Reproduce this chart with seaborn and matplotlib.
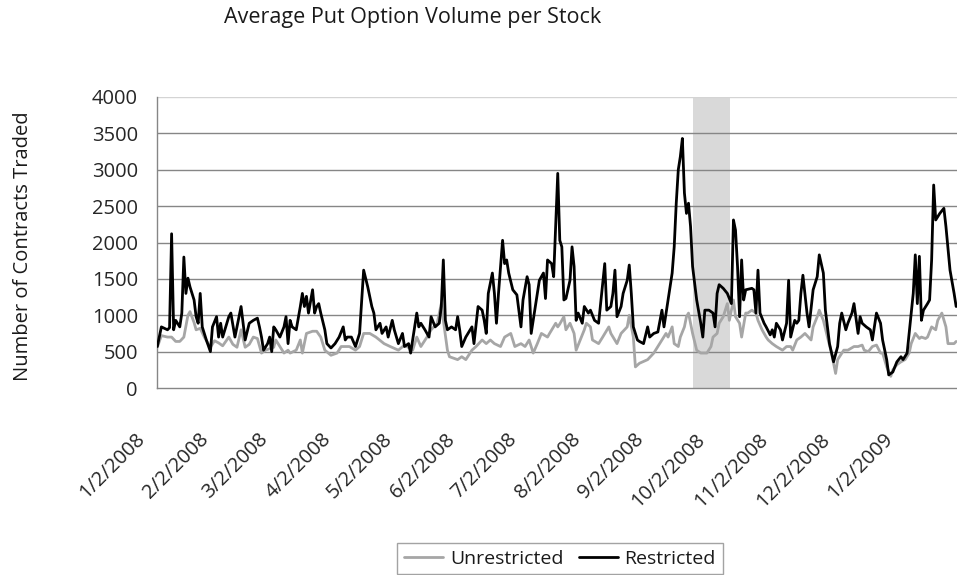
import matplotlib
matplotlib.use("Agg")
import matplotlib.pyplot as plt
import matplotlib.transforms as mtransforms
import seaborn as sns
import pandas as pd

# Restricted stocks (black line)
restricted_dates = [
    "2008-01-02", "2008-01-04", "2008-01-07", "2008-01-08", "2008-01-09", "2008-01-10", "2008-01-11",
    "2008-01-13", "2008-01-14", "2008-01-15", "2008-01-16", "2008-01-17", "2008-01-18", "2008-01-20",
    "2008-01-21", "2008-01-22", "2008-01-23", "2008-01-24", "2008-01-26", "2008-01-28", "2008-01-29",
    "2008-01-31",
    "2008-02-01", "2008-02-02", "2008-02-03", "2008-02-06", "2008-02-07", "2008-02-09", "2008-02-11",
    "2008-02-12", "2008-02-13", "2008-02-14", "2008-02-16", "2008-02-18", "2008-02-20", "2008-02-21",
    "2008-02-22", "2008-02-23", "2008-02-25", "2008-02-26", "2008-02-27", "2008-02-28", "2008-02-29",
    "2008-03-02", "2008-03-04", "2008-03-05", "2008-03-06", "2008-03-07", "2008-03-08", "2008-03-10",
    "2008-03-12", "2008-03-13", "2008-03-14", "2008-03-15", "2008-03-16", "2008-03-18", "2008-03-19",
    "2008-03-20", "2008-03-21", "2008-03-22", "2008-03-24", "2008-03-25", "2008-03-27", "2008-03-29",
    "2008-03-31",
    "2008-04-02", "2008-04-03", "2008-04-04", "2008-04-06", "2008-04-08", "2008-04-10", "2008-04-12",
    "2008-04-14", "2008-04-16", "2008-04-17", "2008-04-18", "2008-04-20", "2008-04-21", "2008-04-23",
    "2008-04-24", "2008-04-26", "2008-04-27", "2008-04-29",
    "2008-05-01", "2008-05-02", "2008-05-04", "2008-05-05", "2008-05-08", "2008-05-09", "2008-05-10",
    "2008-05-12", "2008-05-14", "2008-05-15", "2008-05-17", "2008-05-19", "2008-05-20", "2008-05-21",
    "2008-05-22", "2008-05-23", "2008-05-25", "2008-05-27", "2008-05-28", "2008-05-29", "2008-05-30",
    "2008-06-01", "2008-06-04", "2008-06-05", "2008-06-07", "2008-06-09", "2008-06-10", "2008-06-11",
    "2008-06-12", "2008-06-14", "2008-06-15", "2008-06-16", "2008-06-17", "2008-06-19", "2008-06-20",
    "2008-06-21", "2008-06-22", "2008-06-24", "2008-06-26", "2008-06-28", "2008-06-29",
    "2008-07-01", "2008-07-02", "2008-07-03", "2008-07-05", "2008-07-07", "2008-07-09", "2008-07-10",
    "2008-07-11", "2008-07-13", "2008-07-14", "2008-07-16", "2008-07-17", "2008-07-18", "2008-07-19",
    "2008-07-20", "2008-07-22", "2008-07-23", "2008-07-24", "2008-07-25", "2008-07-26", "2008-07-28",
    "2008-07-29", "2008-07-31",
    "2008-08-01", "2008-08-03", "2008-08-05", "2008-08-06", "2008-08-08", "2008-08-09", "2008-08-11",
    "2008-08-12", "2008-08-13", "2008-08-14", "2008-08-16", "2008-08-17", "2008-08-19", "2008-08-20",
    "2008-08-21", "2008-08-22", "2008-08-24", "2008-08-25", "2008-08-27", "2008-08-29", "2008-08-30",
    "2008-09-01", "2008-09-03", "2008-09-05", "2008-09-06", "2008-09-07", "2008-09-08", "2008-09-10",
    "2008-09-11", "2008-09-12", "2008-09-13", "2008-09-14", "2008-09-15", "2008-09-16", "2008-09-17",
    "2008-09-18", "2008-09-19", "2008-09-20", "2008-09-22", "2008-09-24", "2008-09-25", "2008-09-26",
    "2008-09-28", "2008-09-30",
    "2008-10-01", "2008-10-02", "2008-10-03", "2008-10-05", "2008-10-07", "2008-10-09", "2008-10-10",
    "2008-10-11", "2008-10-12", "2008-10-13", "2008-10-14", "2008-10-15", "2008-10-16", "2008-10-19",
    "2008-10-20", "2008-10-21", "2008-10-22", "2008-10-23", "2008-10-25", "2008-10-26", "2008-10-28",
    "2008-10-29", "2008-10-30", "2008-10-31",
    "2008-11-02", "2008-11-03", "2008-11-05", "2008-11-06", "2008-11-07", "2008-11-09", "2008-11-10",
    "2008-11-11", "2008-11-12", "2008-11-13", "2008-11-15", "2008-11-16", "2008-11-18", "2008-11-20",
    "2008-11-21", "2008-11-23", "2008-11-24", "2008-11-26", "2008-11-28", "2008-11-30",
    "2008-12-01", "2008-12-02", "2008-12-04", "2008-12-05", "2008-12-07", "2008-12-08", "2008-12-10",
    "2008-12-11", "2008-12-12", "2008-12-14", "2008-12-16", "2008-12-17", "2008-12-19", "2008-12-21",
    "2008-12-22", "2008-12-24", "2008-12-25", "2008-12-27", "2008-12-29", "2008-12-31",
    "2009-01-01", "2009-01-03", "2009-01-04", "2009-01-06", "2009-01-07", "2009-01-08", "2009-01-09",
    "2009-01-10", "2009-01-11", "2009-01-13", "2009-01-14", "2009-01-15", "2009-01-16", "2009-01-17",
    "2009-01-19", "2009-01-21", "2009-01-22", "2009-01-24", "2009-01-26", "2009-01-27",
]
restricted_vals = [
    570, 840, 800, 830, 2120, 800, 930,
    840, 1030, 1800, 1300, 1510, 1390, 1210,
    980, 890, 1300, 840, 660, 500, 840,
    980,
    700, 890, 700, 980, 1030, 700, 980,
    1120, 890, 660, 890, 930, 960, 840,
    700, 520, 610, 700, 500, 840, 800,
    700, 840, 980, 610, 930, 840, 800,
    1120, 1300, 1120, 1260, 1030, 1350, 1030,
    1120, 1160, 1030, 800, 610, 550, 610,
    700,
    840, 660, 700, 700, 570, 750, 1620,
    1390, 1120, 1030, 800, 890, 750, 840,
    700, 930, 800, 610,
    750, 570, 610, 480, 1030, 840, 890,
    800, 700, 980, 840, 890, 1120, 1760,
    930, 800, 840, 800, 980, 800, 570,
    700, 840, 610, 1120, 1070, 930, 750,
    1300, 1580, 1300, 890, 1300, 2030, 1710,
    1760, 1580, 1350, 1280, 840, 1210,
    1530, 1420, 750, 1120, 1480, 1580, 1230,
    1760, 1710, 1530, 2950, 2030, 1940, 1210,
    1230, 1480, 1940, 1670, 930, 1030, 890,
    1120, 1030,
    1070, 930, 890, 1160, 1710, 1070, 1120,
    1300, 1620, 980, 1120, 1300, 1480, 1690,
    1300, 840, 660, 640, 610, 840, 700,
    750, 770, 1070, 840, 1030, 1210, 1580,
    1940, 2540, 3000, 3180, 3430, 2680, 2400,
    2540, 2220, 1670, 1210, 890, 700, 1070,
    1070, 1030,
    840, 1300, 1420, 1370, 1300, 1160, 2310,
    2170, 1670, 980, 1760, 1210, 1350, 1370,
    1350, 1030, 1620, 1030, 890, 840, 730,
    800, 700, 890,
    800, 660, 890, 1480, 700, 930, 890,
    930, 1300, 1550, 1030, 840, 1350, 1530,
    1830, 1580, 1070, 610, 360, 570,
    890, 1030, 800, 890, 1030, 1160, 750,
    980, 890, 840, 800, 660, 1030, 890,
    660, 390, 180, 220, 360, 430,
    390, 480, 750, 1300, 1830, 1160, 1810,
    930, 1070, 1160, 1210, 1760, 2790, 2310,
    2400, 2470, 2220, 1620, 1300, 1120,
]

# Unrestricted stocks (grey line)
unrestricted_dates = [
    "2008-01-02", "2008-01-04", "2008-01-07", "2008-01-09", "2008-01-11", "2008-01-13", "2008-01-15",
    "2008-01-17", "2008-01-18", "2008-01-20", "2008-01-21", "2008-01-23", "2008-01-25", "2008-01-28",
    "2008-01-30",
    "2008-02-01", "2008-02-03", "2008-02-06", "2008-02-08", "2008-02-10", "2008-02-12", "2008-02-14",
    "2008-02-16", "2008-02-18", "2008-02-20", "2008-02-22", "2008-02-24", "2008-02-28", "2008-02-29",
    "2008-03-04", "2008-03-06", "2008-03-07", "2008-03-10", "2008-03-12", "2008-03-13", "2008-03-15",
    "2008-03-18", "2008-03-20", "2008-03-22", "2008-03-24", "2008-03-27", "2008-03-30",
    "2008-04-01", "2008-04-05", "2008-04-08", "2008-04-10", "2008-04-12", "2008-04-15", "2008-04-18",
    "2008-04-22", "2008-04-25", "2008-04-29",
    "2008-05-02", "2008-05-06", "2008-05-08", "2008-05-10", "2008-05-13", "2008-05-15", "2008-05-18",
    "2008-05-20", "2008-05-21", "2008-05-23", "2008-05-24", "2008-05-28", "2008-05-30",
    "2008-06-01", "2008-06-04", "2008-06-06", "2008-06-09", "2008-06-11", "2008-06-13", "2008-06-15",
    "2008-06-18", "2008-06-20", "2008-06-23", "2008-06-25", "2008-06-28", "2008-06-30",
    "2008-07-02", "2008-07-04", "2008-07-06", "2008-07-08", "2008-07-11", "2008-07-12", "2008-07-15",
    "2008-07-16", "2008-07-17", "2008-07-19", "2008-07-20", "2008-07-22", "2008-07-24", "2008-07-25",
    "2008-07-27", "2008-07-29", "2008-07-30",
    "2008-08-01", "2008-08-02", "2008-08-05", "2008-08-07", "2008-08-10", "2008-08-11", "2008-08-14",
    "2008-08-16", "2008-08-19", "2008-08-20", "2008-08-22", "2008-08-23", "2008-08-25", "2008-08-29",
    "2008-09-01", "2008-09-03", "2008-09-05", "2008-09-07", "2008-09-08", "2008-09-10", "2008-09-11",
    "2008-09-13", "2008-09-14", "2008-09-16", "2008-09-17", "2008-09-18", "2008-09-20", "2008-09-22",
    "2008-09-24", "2008-09-27", "2008-09-29", "2008-09-30",
    "2008-10-02", "2008-10-03", "2008-10-05", "2008-10-07", "2008-10-08", "2008-10-10", "2008-10-11",
    "2008-10-13", "2008-10-14", "2008-10-16", "2008-10-17", "2008-10-19", "2008-10-21", "2008-10-22",
    "2008-10-24", "2008-10-26", "2008-10-27", "2008-10-29", "2008-10-31",
    "2008-11-03", "2008-11-05", "2008-11-07", "2008-11-08", "2008-11-10", "2008-11-12", "2008-11-14",
    "2008-11-17", "2008-11-18", "2008-11-20", "2008-11-21", "2008-11-23", "2008-11-25", "2008-11-27",
    "2008-11-29", "2008-11-30",
    "2008-12-03", "2008-12-05", "2008-12-08", "2008-12-10", "2008-12-12", "2008-12-13", "2008-12-15",
    "2008-12-17", "2008-12-19", "2008-12-21", "2008-12-22", "2008-12-24", "2008-12-26", "2008-12-27",
    "2008-12-29", "2008-12-31",
    "2009-01-02", "2009-01-04", "2009-01-05", "2009-01-07", "2009-01-09", "2009-01-10", "2009-01-12",
    "2009-01-13", "2009-01-15", "2009-01-17", "2009-01-18", "2009-01-20", "2009-01-22", "2009-01-23",
    "2009-01-26", "2009-01-27",
]
unrestricted_vals = [
    560, 720, 700, 700, 640, 640, 700,
    1000, 1050, 900, 800, 820, 700, 560,
    650,
    620, 580, 700, 600, 560, 800, 560,
    600, 700, 680, 480, 520, 560, 660,
    480, 520, 480, 520, 660, 480, 750,
    780, 780, 700, 520, 450, 480,
    570, 570, 520, 570, 750, 750, 700,
    610, 570, 520,
    590, 520, 700, 570, 700, 800, 890,
    1160, 930, 520, 430, 390, 430,
    390, 520, 570, 660, 610, 660, 610,
    570, 700, 750, 570, 610, 570,
    660, 480, 610, 750, 700, 750, 890,
    840, 880, 980, 800, 890, 750, 520,
    660, 800, 890,
    840, 660, 610, 700, 840, 750, 610,
    750, 840, 1000, 700, 290, 340, 390,
    480, 570, 660, 750, 700, 840, 610,
    570, 700, 840, 980, 1030, 750, 520,
    480, 480, 570, 700,
    750, 890, 980, 1160, 930, 1210, 980,
    890, 700, 1030, 1030, 1070, 1030, 930,
    800, 700, 660, 610, 570,
    520, 570, 570, 520, 660, 700, 750,
    660, 840, 980, 1070, 930, 700, 480,
    200, 390,
    520, 520, 570, 570, 590, 520, 500,
    570, 590, 480, 480, 290, 160, 250,
    320, 360,
    390, 480, 610, 750, 680, 700, 680,
    700, 840, 800, 930, 1030, 840, 610,
    610, 640,
]

# short-sale ban window (shaded)
ban_start = "2008-09-20"
ban_end = "2008-10-08 12:00"

tick_dates = [pd.Timestamp("2008-01-02") + pd.DateOffset(months=i) for i in range(13)]
tick_labels = [f"{d.month}/{d.day}/{d.year}" for d in tick_dates]
y_ticks = [0, 500, 1000, 1500, 2000, 2500, 3000, 3500, 4000]

sns.set_style("white")
plt.rcParams["font.family"] = ["Open Sans", "DejaVu Sans"]
plt.rcParams["text.color"] = "#1a1a1a"

grid_col = "#868686"

fig = plt.figure(figsize=(9.57, 5.75), dpi=100)
ax = fig.add_axes([157.3 / 957, 1 - 388 / 575, 1 - 157.3 / 957, (388 - 97) / 575])

unres = pd.DataFrame({"date": pd.to_datetime(unrestricted_dates), "value": unrestricted_vals})
res = pd.DataFrame({"date": pd.to_datetime(restricted_dates), "value": restricted_vals})

ax.axvspan(pd.Timestamp(ban_start), pd.Timestamp(ban_end), color="#d9d9d9", lw=0, zorder=0)
for y in y_ticks[1:-1]:
    ax.axhline(y, color=grid_col, lw=1, zorder=1)
ax.axhline(4000, color="#d4d4d4", lw=1, zorder=1)

sns.lineplot(data=unres, x="date", y="value", color="#a6a6a6", lw=2, estimator=None,
             label="Unrestricted", ax=ax, zorder=2)
sns.lineplot(data=res, x="date", y="value", color="black", lw=2, estimator=None,
             label="Restricted", ax=ax, zorder=3)

ax.set_xlim(pd.Timestamp("2008-01-02"), pd.Timestamp("2009-01-27 10:00"))
ax.set_ylim(0, 4000)
ax.set_yticks(y_ticks)
ax.set_yticklabels([str(v) for v in y_ticks], fontsize=14.5)
ax.set_xticks(tick_dates)
ax.set_xticklabels(tick_labels, rotation=45, ha="right", va="center", rotation_mode="anchor",
                   fontsize=14.5)
ax.tick_params(axis="y", direction="inout", length=14, width=1, color=grid_col, pad=7)
ax.tick_params(axis="x", direction="out", length=7, width=1, color=grid_col, pad=28)
ax.set_xlabel("")
ax.set_ylabel("")

# nudge the slanted date labels left, as in the original
shift = mtransforms.ScaledTranslation(-15 / 100, 0, fig.dpi_scale_trans)
for lbl in ax.get_xticklabels():
    lbl.set_transform(lbl.get_transform() + shift)

for side in ["top", "right"]:
    ax.spines[side].set_visible(False)
for side in ["left", "bottom"]:
    ax.spines[side].set_color(grid_col)
    ax.spines[side].set_linewidth(1)

fig.text(413 / 957, 1 - 18 / 575, "Average Put Option Volume per Stock", fontsize=15.5,
         ha="center", va="center")
fig.text(23 / 957, 1 - 246 / 575, "Number of Contracts Traded", fontsize=14.5, rotation=90,
         ha="center", va="center")

handles, labels = ax.get_legend_handles_labels()
ax.get_legend().remove()
fig.legend(handles, labels, loc="upper center", bbox_to_anchor=(560 / 957, 1 - 533 / 575), ncol=2,
           frameon=True, fancybox=False, edgecolor="#8c8c8c", fontsize=14, handlelength=2.0,
           handletextpad=0.35, columnspacing=0.8, borderpad=0.35)

fig.savefig("out.png", dpi=100)
